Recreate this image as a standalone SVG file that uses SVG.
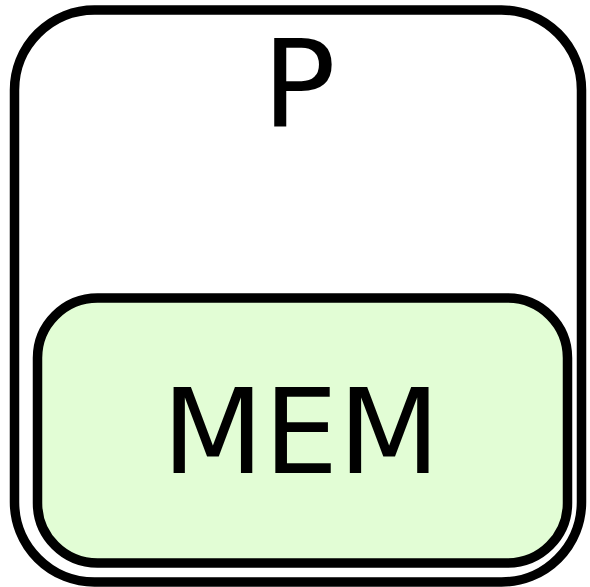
<svg xmlns="http://www.w3.org/2000/svg" width="590" height="587" viewBox="0 0 590 587">
<style>
.box{stroke:#000;stroke-width:9.5}
.lbl{font-family:"DejaVu Sans",Verdana,sans-serif;fill:#000;text-anchor:middle}
</style>
<rect width="590" height="587" fill="#fff"/>
<g id="P">
<rect class="box" x="14.5" y="10" width="567" height="572" rx="80" ry="80" fill="#fff"/>
<text class="lbl" x="299" y="127" font-size="122">P</text>
</g>
<g id="MEM">
<rect class="box" x="37.5" y="298" width="530" height="265" rx="60" ry="60" fill="#e2fdd5"/>
<text class="lbl" x="301" y="473" font-size="118">MEM</text>
</g>
<g id="connectors"></g>
</svg>
